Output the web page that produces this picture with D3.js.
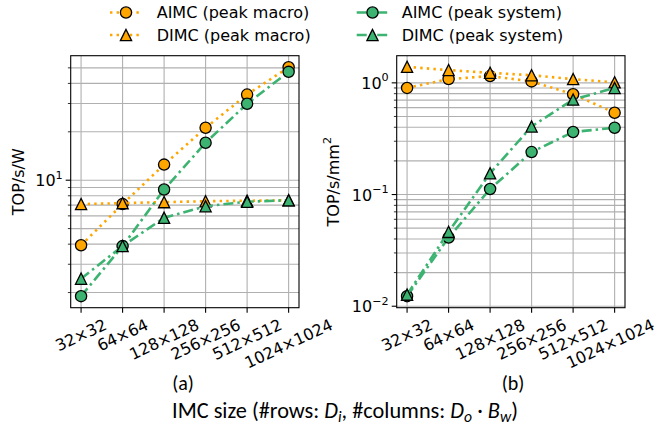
<!DOCTYPE html>
<html>
<head>
<meta charset="utf-8">
<script src="https://cdn.jsdelivr.net/npm/d3@7"></script>
<style>
  body { margin: 0; background: #fff; }
  svg { display: block; }
  text { font-family: "DejaVu Sans", sans-serif; }
</style>
</head>
<body>
<svg width="658" height="428"></svg>
<script>
const categories = ['32×32', '64×64', '128×128', '256×256', '512×512', '1024×1024'];

// (a) energy efficiency, TOP/s/W
const effAimcMacro = [3.94, 7.1, 12.5, 21.2, 34.1, 50.4];
const effDimcMacro = [7.1, 7.2, 7.3, 7.4, 7.45, 7.5];
const effAimcSystem = [1.9, 3.89, 8.75, 17.1, 29.9, 47.2];
const effDimcSystem = [2.44, 3.89, 5.84, 6.89, 7.34, 7.5];

// (b) area efficiency, TOP/s/mm2
const densAimcMacro = [0.90, 1.08, 1.15, 1.03, 0.79, 0.54];
const densDimcMacro = [1.39, 1.30, 1.23, 1.17, 1.08, 1.01];
const densAimcSystem = [0.0123, 0.0412, 0.112, 0.24, 0.363, 0.396];
const densDimcSystem = [0.0127, 0.0463, 0.155, 0.407, 0.708, 0.90];

const seriesNames = ['AIMC (peak macro)', 'DIMC (peak macro)', 'AIMC (peak system)', 'DIMC (peak system)'];

const ORANGE = '#ffa500';
const GREEN = '#3cb371';
const FS = 16; // main font size
const styles = [
  { color: ORANGE, dash: '2.4,4.2', marker: 'circle' },
  { color: ORANGE, dash: '2.4,4.2', marker: 'triangle' },
  { color: GREEN, dash: '10,4,2.5,4', marker: 'circle' },
  { color: GREEN, dash: '10,4,2.5,4', marker: 'triangle' },
];

const svg = d3.select('svg');

function drawMarker(g, type, x, y, fill) {
  if (type === 'circle') {
    g.append('circle').attr('cx', x).attr('cy', y).attr('r', 5.6)
      .attr('fill', fill).attr('stroke', '#000').attr('stroke-width', 1.3);
  } else {
    const s = 5.6;
    g.append('path')
      .attr('d', `M${x},${y - s}L${x - s},${y + s}L${x + s},${y + s}Z`)
      .attr('fill', fill).attr('stroke', '#000').attr('stroke-width', 1.3)
      .attr('stroke-linejoin', 'miter');
  }
}

function logTicks(domain) {
  const out = [];
  const k0 = Math.floor(Math.log10(domain[0])), k1 = Math.ceil(Math.log10(domain[1]));
  for (let k = k0; k <= k1; k++) {
    for (let m = 1; m <= 9; m++) {
      const v = m * Math.pow(10, k);
      if (v >= domain[0] && v <= domain[1]) out.push({ v, major: m === 1, k });
    }
  }
  return out;
}

function panel(opts) {
  const { left, right, top, bottom, domain, data, ylabel, ylabelX, tag } = opts;
  const g = svg.append('g');
  const m = (right - left) * 0.05 / 1.1;
  const x = d3.scalePoint().domain(categories).range([left + m, right - m]);
  const y = d3.scaleLog().domain(domain).range([bottom, top]);

  const ticks = logTicks(domain);

  // grid
  const grid = g.append('g').attr('stroke', '#b0b0b0').attr('stroke-width', 1.1);
  ticks.forEach(t => {
    grid.append('line').attr('x1', left).attr('x2', right)
      .attr('y1', y(t.v)).attr('y2', y(t.v));
  });
  categories.forEach(c => {
    grid.append('line').attr('x1', x(c)).attr('x2', x(c))
      .attr('y1', top).attr('y2', bottom);
  });

  // series
  const clipId = 'clip-' + tag;
  svg.append('clipPath').attr('id', clipId).append('rect')
    .attr('x', left).attr('y', top).attr('width', right - left).attr('height', bottom - top);

  const line = d3.line().x((d, i) => x(categories[i])).y(d => y(d));
  data.forEach((vals, si) => {
    const st = styles[si];
    g.append('path').datum(vals)
      .attr('d', line)
      .attr('fill', 'none')
      .attr('stroke', st.color)
      .attr('stroke-width', 2.6)
      .attr('stroke-dasharray', st.dash)
      .attr('clip-path', `url(#${clipId})`);
    const mg = g.append('g');
    vals.forEach((v, i) => drawMarker(mg, st.marker, x(categories[i]), y(v), st.color));
  });

  // spines
  g.append('rect').attr('x', left).attr('y', top)
    .attr('width', right - left).attr('height', bottom - top)
    .attr('fill', 'none').attr('stroke', '#000').attr('stroke-width', 1.1);

  // y ticks
  ticks.forEach(t => {
    const len = t.major ? 5 : 2.8;
    g.append('line').attr('x1', left - len).attr('x2', left)
      .attr('y1', y(t.v)).attr('y2', y(t.v))
      .attr('stroke', '#000').attr('stroke-width', t.major ? 1.1 : 0.8);
    if (t.major) {
      const txt = g.append('text')
        .attr('x', left - 8).attr('y', y(t.v) + 6)
        .attr('text-anchor', 'end')
        .attr('font-size', FS)
        .attr('fill', '#000');
      txt.append('tspan').text('10');
      txt.append('tspan').attr('dy', -7.5).attr('font-size', 11.2)
        .text(t.k < 0 ? '\u2212' + (-t.k) : String(t.k));
    }
  });

  // x ticks and rotated labels
  categories.forEach(c => {
    g.append('line').attr('x1', x(c)).attr('x2', x(c))
      .attr('y1', bottom).attr('y2', bottom + 5)
      .attr('stroke', '#000').attr('stroke-width', 1.1);
    const t = g.append('text')
      .attr('text-anchor', 'middle')
      .attr('dominant-baseline', 'central')
      .attr('font-size', FS)
      .attr('fill', '#000')
      .text(c);
    const w = t.node().getComputedTextLength();
    const h = FS * 1.1;
    const a = 25 * Math.PI / 180;
    const bh = w * Math.sin(a) + h * Math.cos(a);
    // keep the last label inside the picture
    const half = (w * Math.cos(a) + h * Math.sin(a)) / 2;
    const cx = Math.min(x(c), 657 - half);
    t.attr('transform', `translate(${cx},${bottom + 8 + bh / 2}) rotate(-25)`);
  });

  // y label
  const yl = g.append('text')
    .attr('transform', `translate(${ylabelX},${(top + bottom) / 2}) rotate(-90)`)
    .attr('text-anchor', 'middle')
    .attr('dominant-baseline', 'central')
    .attr('font-size', FS)
    .attr('fill', '#000');
  ylabel(yl);

  return { x, y };
}

panel({
  left: 70.7, right: 299, top: 55.7, bottom: 307.7,
  domain: [1.61, 59.5],
  data: [effAimcMacro, effDimcMacro, effAimcSystem, effDimcSystem],
  ylabel: t => t.text('TOP/s/W'),
  ylabelX: 18, tag: 'a'
});

panel({
  left: 396.7, right: 625, top: 55.7, bottom: 307.7,
  domain: [0.0097, 1.75],
  data: [densAimcMacro, densDimcMacro, densAimcSystem, densDimcSystem],
  ylabel: t => {
    t.append('tspan').text('TOP/s/mm');
    t.append('tspan').attr('dy', -6.5).attr('font-size', 11.2).text('2');
  },
  ylabelX: 333, tag: 'b'
});

// legend
const legendPos = [
  { lx: 110, mx: 126, tx: 156.7, y: 12.5 },
  { lx: 110, mx: 126, tx: 156.7, y: 35 },
  { lx: 356.7, mx: 372.5, tx: 401.7, y: 12.5 },
  { lx: 356.7, mx: 372.5, tx: 401.7, y: 35 },
];
const lg = svg.append('g');
seriesNames.forEach((name, i) => {
  const p = legendPos[i], st = styles[i];
  lg.append('line').attr('x1', p.lx).attr('x2', p.lx + 32)
    .attr('y1', p.y).attr('y2', p.y)
    .attr('stroke', st.color).attr('stroke-width', 2.6)
    .attr('stroke-dasharray', st.dash);
  drawMarker(lg, st.marker, p.mx, p.y, st.color);
  lg.append('text').attr('x', p.tx).attr('y', p.y)
    .attr('dominant-baseline', 'central')
    .attr('font-size', FS).attr('fill', '#000')
    .text(name);
});

// panel tags and shared x label
const capFont = 'Carlito, Lato, "Open Sans", sans-serif';
[['(a)', 183], ['(b)', 513]].forEach(([s, cx]) => {
  svg.append('text').attr('x', cx).attr('y', 390)
    .attr('text-anchor', 'middle')
    .style('font-family', capFont)
    .attr('font-size', 20).attr('fill', '#000')
    .text(s);
});

const xl = svg.append('text').attr('x', 345).attr('y', 418)
  .attr('text-anchor', 'middle')
  .style('font-family', capFont)
  .attr('font-size', 18.5).attr('fill', '#000');
xl.append('tspan').text('IMC size (#rows: ');
xl.append('tspan').attr('font-style', 'italic').text('D');
xl.append('tspan').attr('font-style', 'italic').attr('font-size', 13).attr('dy', 4).text('i');
xl.append('tspan').attr('dy', -4).text(', #columns: ');
xl.append('tspan').attr('font-style', 'italic').text('D');
xl.append('tspan').attr('font-style', 'italic').attr('font-size', 13).attr('dy', 4).text('o');
xl.append('tspan').attr('dy', -4).text(' \u00b7 ');
xl.append('tspan').attr('font-style', 'italic').text('B');
xl.append('tspan').attr('font-style', 'italic').attr('font-size', 13).attr('dy', 4).text('w');
xl.append('tspan').attr('dy', -4).text(')');
// scale the font so the label spans the reference width
const targetW = 346;
const curW = xl.node().getComputedTextLength();
if (curW > 0) {
  const k = targetW / curW;
  xl.attr('font-size', 18.5 * k);
  xl.selectAll('tspan').filter(function () { return this.getAttribute('font-size'); })
    .attr('font-size', 13 * k);
}
</script>
</body>
</html>
